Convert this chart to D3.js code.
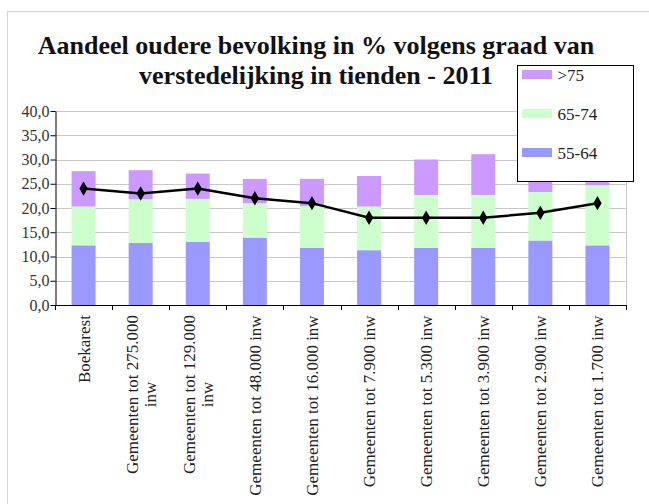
<!DOCTYPE html>
<html>
<head>
<meta charset="utf-8">
<script src="https://cdn.jsdelivr.net/npm/d3@7"></script>
<style>
  body { margin: 0; background: #fff; }
  text { font-family: "Liberation Serif", "DejaVu Serif", serif; }
</style>
</head>
<body>
<script>
// categorieen en waarden
var categories = ["Boekarest", "Gemeenten tot 275.000 inw", "Gemeenten tot 129.000 inw",
    "Gemeenten tot 48.000 inw", "Gemeenten tot 16.000 inw", "Gemeenten tot 7.900 inw",
    "Gemeenten tot 5.300 inw", "Gemeenten tot 3.900 inw", "Gemeenten tot 2.900 inw",
    "Gemeenten tot 1.700 inw"];
var tickLabels = [["Boekarest"], ["Gemeenten tot 275.000", "inw"], ["Gemeenten tot 129.000", "inw"],
    ["Gemeenten tot 48.000 inw"], ["Gemeenten tot 16.000 inw"], ["Gemeenten tot 7.900 inw"],
    ["Gemeenten tot 5.300 inw"], ["Gemeenten tot 3.900 inw"], ["Gemeenten tot 2.900 inw"],
    ["Gemeenten tot 1.700 inw"]];
var age5564 = [12.3, 12.8, 13.0, 13.9, 11.8, 11.3, 11.8, 11.8, 13.3, 12.3];
var age6574 = [8.0, 9.0, 8.9, 7.1, 8.6, 9.0, 10.9, 10.9, 10.0, 12.4];
var age75 = [7.3, 6.0, 5.2, 5.0, 5.6, 6.3, 7.3, 8.4, 4.2, 1.8];
var lineValues = [24, 23, 24, 22, 21, 18, 18, 18, 19, 21];
var yTicks = [0, 5, 10, 15, 20, 25, 30, 35, 40];
var seriesNames = ["55-64", "65-74", ">75"];
var seriesColors = ["#9999ff", "#ccffcc", "#cc99ff"];

var W = 649, H = 504;
var plotLeft = 55, plotRight = 626, plotTop = 111, plotBottom = 305;

var svg = d3.select("body").append("svg")
    .attr("width", W)
    .attr("height", H);

// kader rond de grafiek
svg.append("rect")
    .attr("x", 7.5).attr("y", 11.5)
    .attr("width", 700).attr("height", 560)
    .attr("fill", "none")
    .attr("stroke", "#d4d4d4");

// titel
var title = svg.append("text")
    .attr("text-anchor", "middle")
    .attr("font-weight", "bold")
    .attr("font-size", 26)
    .attr("fill", "#111");
title.append("tspan").attr("x", 316).attr("y", 54).text("Aandeel oudere bevolking in % volgens graad van");
title.append("tspan").attr("x", 316).attr("y", 84).text("verstedelijking in tienden - 2011");

var x = d3.scaleBand()
    .domain(categories)
    .range([plotLeft, plotRight])
    .paddingInner(0.58)
    .paddingOuter(0.29);

var y = d3.scaleLinear()
    .domain([0, 40])
    .range([plotBottom, plotTop]);

// rasterlijnen
svg.append("g")
    .selectAll("line")
    .data(yTicks.filter(function (d) { return d > 0; }))
    .enter()
    .append("line")
    .attr("x1", plotLeft).attr("x2", plotRight)
    .attr("y1", function (d) { return Math.round(y(d)) + 0.5; })
    .attr("y2", function (d) { return Math.round(y(d)) + 0.5; })
    .attr("stroke", "#c8c8c8");

svg.append("line")
    .attr("x1", plotRight + 0.5).attr("x2", plotRight + 0.5)
    .attr("y1", plotTop).attr("y2", plotBottom)
    .attr("stroke", "#c8c8c8");

// gestapelde balken
var rows = categories.map(function (c, i) {
    return { cat: c, "55-64": age5564[i], "65-74": age6574[i], ">75": age75[i] };
});
var stacked = d3.stack().keys(seriesNames)(rows);

svg.append("g")
    .selectAll("g")
    .data(stacked)
    .enter()
    .append("g")
    .attr("fill", function (d, i) { return seriesColors[i]; })
    .selectAll("rect")
    .data(function (d) { return d; })
    .enter()
    .append("rect")
    .attr("x", function (d) { return x(d.data.cat); })
    .attr("width", x.bandwidth())
    .attr("y", function (d) { return y(d[1]); })
    .attr("height", function (d) { return y(d[0]) - y(d[1]); });

// y-as
var yAxis = svg.append("g")
    .attr("transform", "translate(" + (plotLeft + 0.5) + ",0)")
    .call(d3.axisLeft(y).tickValues(yTicks).tickSize(5).tickSizeOuter(0)
        .tickFormat(function (d) { return d3.format(".1f")(d).replace(".", ","); }));
yAxis.select(".domain").attr("stroke", "#000");
yAxis.selectAll(".tick line").attr("stroke", "#000");
yAxis.selectAll(".tick text")
    .attr("font-family", "Liberation Serif")
    .attr("font-size", 16)
    .attr("fill", "#333")
    .attr("x", -6);

// x-as
svg.append("line")
    .attr("x1", plotLeft).attr("x2", plotRight + 1)
    .attr("y1", plotBottom + 0.5).attr("y2", plotBottom + 0.5)
    .attr("stroke", "#000");
var step = x.step();
svg.append("g")
    .selectAll("line")
    .data(d3.range(categories.length + 1))
    .enter()
    .append("line")
    .attr("x1", function (i) { return Math.round(plotLeft + i * step) + 0.5; })
    .attr("x2", function (i) { return Math.round(plotLeft + i * step) + 0.5; })
    .attr("y1", plotBottom).attr("y2", plotBottom + 5)
    .attr("stroke", "#000");

// categorie labels, verticaal
var labels = svg.append("g")
    .selectAll("text")
    .data(categories)
    .enter()
    .append("text")
    .attr("transform", function (d) {
        return "translate(" + (x(d) + x.bandwidth() / 2) + "," + (plotBottom + 10) + ") rotate(-90)";
    })
    .attr("text-anchor", "middle")
    .attr("font-size", 17)
    .attr("fill", "#222");

labels.each(function (d, i) {
    var lines = tickLabels[i];
    var el = d3.select(this);
    var n = lines.length;
    var lh = 18;
    lines.forEach(function (t, k) {
        el.append("tspan")
            .attr("x", 0)
            .attr("y", (k - (n - 1) / 2) * lh)
            .attr("dy", "0.35em")
            .text(t);
    });
    // blok rechts uitlijnen tegen de as, regels onderling gecentreerd
    var w = this.getBBox().width;
    el.selectAll("tspan").attr("x", -w / 2);
});

// lijn met ruiten
var line = d3.line()
    .x(function (d, i) { return x(categories[i]) + x.bandwidth() / 2; })
    .y(function (d) { return y(d); });

svg.append("path")
    .datum(lineValues)
    .attr("d", line)
    .attr("fill", "none")
    .attr("stroke", "#000")
    .attr("stroke-width", 2.5);

svg.append("g")
    .selectAll("path")
    .data(lineValues)
    .enter()
    .append("path")
    .attr("d", d3.symbol().type(d3.symbolDiamond).size(60))
    .attr("transform", function (d, i) {
        return "translate(" + (x(categories[i]) + x.bandwidth() / 2) + "," + y(d) + ")";
    })
    .attr("fill", "#000");

// legenda
var legend = svg.append("g").attr("transform", "translate(517.5,65.5)");
legend.append("rect")
    .attr("width", 116).attr("height", 116)
    .attr("fill", "#fff")
    .attr("stroke", "#000");

var legendOrder = [2, 1, 0];
var items = legend.selectAll("g.item")
    .data(legendOrder)
    .enter()
    .append("g")
    .attr("class", "item")
    .attr("transform", function (d, k) { return "translate(0," + (k * 39) + ")"; });
items.append("rect")
    .attr("x", 4.5).attr("y", 4.5)
    .attr("width", 30).attr("height", 9)
    .attr("fill", function (d) { return seriesColors[d]; });
items.append("text")
    .attr("x", 40).attr("y", 15)
    .attr("font-size", 17)
    .attr("fill", "#222")
    .text(function (d) { return seriesNames[d]; });
</script>
</body>
</html>
